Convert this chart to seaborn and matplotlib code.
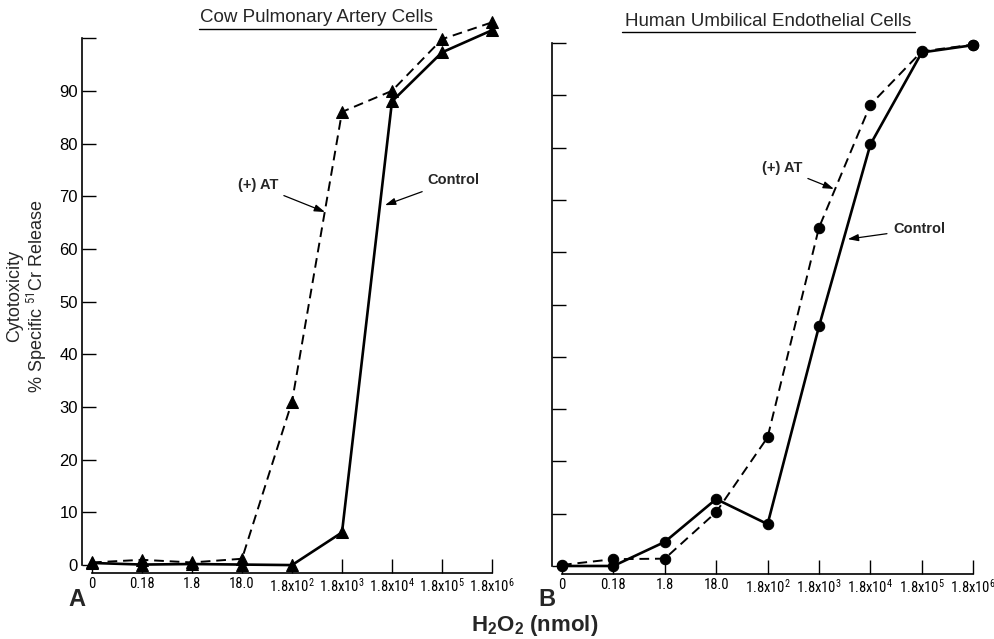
import matplotlib
matplotlib.use("Agg")
import matplotlib.pyplot as plt
import numpy as np
import pandas as pd
import seaborn as sns
from matplotlib import font_manager
from matplotlib.lines import Line2D

# ---------------- data ----------------
dose_labels = ["0", "0.18", "1.8", "18.0",
               r"1.8x10$^{2}$", r"1.8x10$^{3}$", r"1.8x10$^{4}$",
               r"1.8x10$^{5}$", r"1.8x10$^{6}$"]
dose_pos = list(range(len(dose_labels)))

cow_control = [0.4, 0.1, 0.2, 0.1, 0.0, 6.2, 88.0, 97.3, 101.5]
cow_at = [0.5, 1.0, 0.5, 1.2, 31.0, 86.0, 90.0, 99.8, 103.0]
huvec_control = [0.0, 0.0, 4.6, 12.8, 8.0, 45.8, 80.6, 98.2, 99.6]
huvec_at = [0.2, 1.3, 1.4, 10.3, 24.6, 64.7, 88.2, 98.4, 99.7]

y_ticks = list(range(0, 101, 10))
y_ticklabels_a = [str(v) for v in range(0, 100, 10)] + [""]

# ---------------- fonts ----------------
sns.set_style("ticks")
names = {f.name for f in font_manager.fontManager.ttflist}
narrow = "Liberation Sans"
tick_fs = 9.0
for cand, fs in (("Liberation Sans Narrow", 11.0), ("DejaVu Sans Condensed", 9.0),
                 ("Roboto Condensed", 10.5)):
    if cand in names:
        narrow, tick_fs = cand, fs
        break
plt.rcParams["font.family"] = ["Liberation Sans", "DejaVu Sans"]
plt.rcParams["mathtext.fontset"] = "custom"
plt.rcParams["mathtext.rm"] = narrow
plt.rcParams["mathtext.it"] = narrow
plt.rcParams["mathtext.bf"] = "Liberation Sans:bold"

fig = plt.figure(figsize=(9.95, 6.39), dpi=100)
W, H = 995, 639

axA = fig.add_axes([82 / W, 0.1033, 425 / W, 0.870])
axB = fig.add_axes([551.7 / W, 0.1020, 436.9 / W, 0.8634])

panels = [
    (axA, cow_control, cow_at, "^", 8.5),
    (axB, huvec_control, huvec_at, "o", 7.5),
]

for ax, ctrl, at, mk, ms in panels:
    df = pd.DataFrame({"pos": dose_pos, "control": ctrl, "at": at})
    sns.lineplot(data=df, x="pos", y="at", ax=ax, color="black", lw=1.4,
                 linestyle=(0, (5, 3)), marker=mk, markersize=ms,
                 markeredgecolor="black", markerfacecolor="black",
                 errorbar=None, clip_on=False, zorder=3)
    sns.lineplot(data=df, x="pos", y="control", ax=ax, color="black", lw=1.9,
                 marker=mk, markersize=ms, markeredgecolor="black",
                 markerfacecolor="black", errorbar=None, clip_on=False, zorder=4)
    ax.set_xlim(-0.2, 8.3)
    ax.set_ylim(-1.5, 104)
    sns.despine(ax=ax)
    ax.spines["left"].set_bounds(0, 100)
    ax.spines["bottom"].set_bounds(0, 8)
    for s in ("left", "bottom"):
        ax.spines[s].set_linewidth(1.2)
        ax.spines[s].set_color("black")
    ax.set_xticks(dose_pos)
    ax.set_xticklabels(dose_labels, fontfamily=narrow, fontsize=tick_fs)
    ax.set_yticks(y_ticks)
    ax.tick_params(axis="both", direction="in", length=10, width=1.0,
                   colors="black")
    ax.tick_params(axis="x", pad=3)
    ax.tick_params(axis="y", pad=3)
    ax.set_xlabel("")
    ax.set_ylabel("")
    ax.set_facecolor("white")

axA.set_yticklabels(y_ticklabels_a, fontsize=12)
axB.set_yticklabels([""] * len(y_ticks))

arrow = dict(arrowstyle="-|>,head_length=0.6,head_width=0.2", color="black",
             lw=0.9, shrinkA=2, shrinkB=0)
ann_fs = 10.5
# Panel A annotations
axA.annotate("(+) AT", xy=(4.66, 67.0), xytext=(3.72, 72.1), ha="right",
             va="center", fontsize=ann_fs, fontweight="bold", arrowprops=arrow)
axA.annotate("Control", xy=(5.86, 68.3), xytext=(6.70, 73.0), ha="left",
             va="center", fontsize=ann_fs, fontweight="bold", arrowprops=arrow)
# Panel B annotations
axB.annotate("(+) AT", xy=(5.29, 72.1), xytext=(4.67, 76.1), ha="right",
             va="center", fontsize=ann_fs, fontweight="bold", arrowprops=arrow)
axB.annotate("Control", xy=(5.56, 62.5), xytext=(6.44, 64.4), ha="left",
             va="center", fontsize=ann_fs, fontweight="bold", arrowprops=arrow)

# Titles with underline
fig.text(317 / W, 1 - 18 / H, "Cow Pulmonary Artery Cells", ha="center",
         va="center", fontsize=13.5)
fig.add_artist(Line2D([199 / W, 436 / W], [1 - 29 / H, 1 - 29 / H],
                      transform=fig.transFigure, color="black", lw=1.0))
fig.text(768 / W, 1 - 22 / H, "Human Umbilical Endothelial Cells",
         ha="center", va="center", fontsize=13.5)
fig.add_artist(Line2D([622 / W, 915 / W], [1 - 32 / H, 1 - 32 / H],
                      transform=fig.transFigure, color="black", lw=1.0))

# Y label (two lines)
fig.text(15 / W, 1 - 296 / H, "Cytotoxicity", rotation=90, ha="center",
         va="center", fontsize=13)
fig.text(37 / W, 1 - 296 / H, r"% Specific $^{51}$Cr Release", rotation=90,
         ha="center", va="center", fontsize=13)

# X label and panel letters
fig.text(535 / W, 1 - 626 / H, r"H$_\mathbf{2}$O$_\mathbf{2}$ (nmol)",
         ha="center", va="center", fontsize=16, fontweight="bold")
fig.text(77 / W, 1 - 600 / H, "A", ha="center", va="center", fontsize=17,
         fontweight="bold")
fig.text(547 / W, 1 - 600 / H, "B", ha="center", va="center", fontsize=17,
         fontweight="bold")

fig.savefig("out.png", dpi=100, facecolor="white")
